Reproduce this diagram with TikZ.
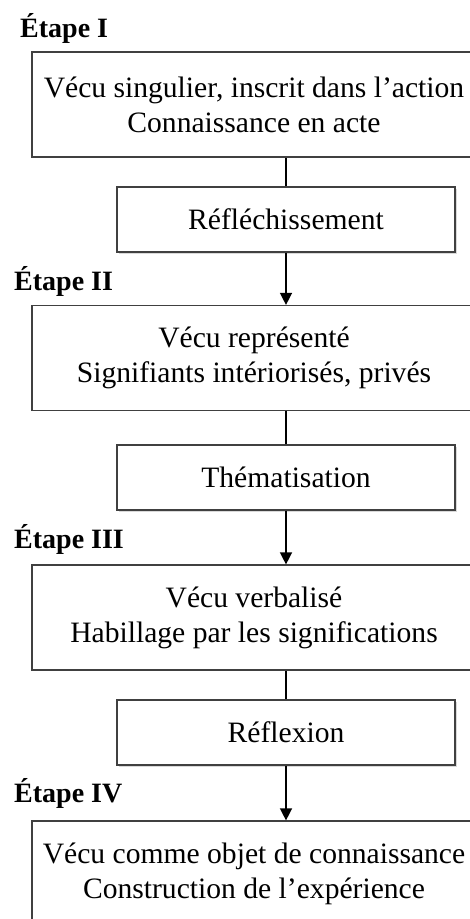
\documentclass[tikz,border=0pt]{standalone}
\usepackage{fontspec}
\setmainfont{Liberation Serif}
\usetikzlibrary{arrows.meta,shadows}

\begin{document}
\begin{tikzpicture}[x=1pt, y=-1pt,
		bigbox/.style={draw=black!75, line width=1.2pt, minimum width=444pt, minimum height=105pt, align=center, inner sep=0pt, font=\fontsize{29.6}{35}\selectfont},
		stepbox/.style={draw=black!75, line width=1.2pt, fill=white, minimum width=338pt, minimum height=65pt, inner sep=0pt, font=\fontsize{29.6}{35}\selectfont, drop shadow={shadow xshift=1.5pt, shadow yshift=-2pt, opacity=0.3}},
		stage/.style={anchor=base west, inner sep=0pt, font=\fontsize{28}{30}\selectfont\bfseries},
		link/.style={draw=black, line width=1.4pt},
		arrow/.style={link, -{Triangle[length=12pt, width=12pt]}}]
			%%%%% START %%%%%
			
			\useasboundingbox (0, 0) rectangle (469, 919);
			
			\node[stage] (stageI) at (20, 37) {Étape I};
			\node[bigbox] (lived) at (254, 104.5) {Vécu singulier, inscrit dans l’action\\Connaissance en acte};
			
			\node[stepbox] (reflecting) at (286, 219.5) {Réfléchissement};
			
			\node[stage] (stageII) at (14, 290) {Étape II};
			\node[bigbox] (represented) at (254, 358) {Vécu représenté\\Signifiants intériorisés, privés};
			
			\node[stepbox] (theming) at (286, 477.5) {Thématisation};
			
			\node[stage] (stageIII) at (14, 548) {Étape III};
			\node[bigbox] (verbalized) at (254, 617.5) {Vécu verbalisé\\Habillage par les significations};
			
			\node[stepbox] (reflection) at (286, 732.5) {Réflexion};
			
			\node[stage] (stageIV) at (14, 802) {Étape IV};
			\node[bigbox] (knowledge) at (254, 873.5) {Vécu comme objet de connaissance\\Construction de l’expérience};
			
			\draw[link] (reflecting.north) -- (reflecting.north |- lived.south);
			\draw[arrow] (reflecting.south) -- (reflecting.south |- represented.north);
			
			\draw[link] (theming.north) -- (theming.north |- represented.south);
			\draw[arrow] (theming.south) -- (theming.south |- verbalized.north);
			
			\draw[link] (reflection.north) -- (reflection.north |- verbalized.south);
			\draw[arrow] (reflection.south) -- (reflection.south |- knowledge.north);
			
			%%%%% END %%%%%
\end{tikzpicture}
\end{document}
